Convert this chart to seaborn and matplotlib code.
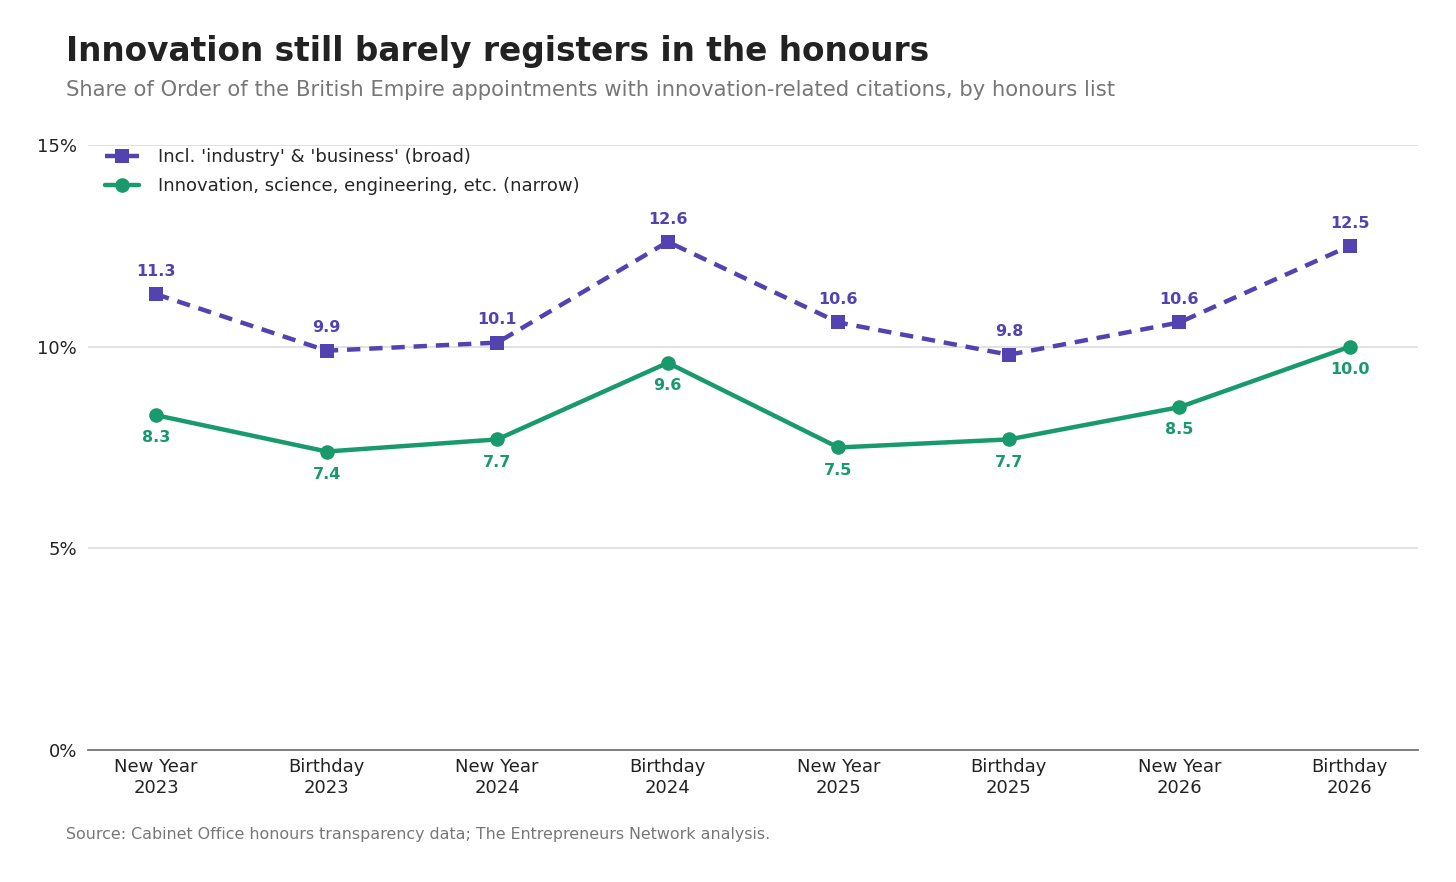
import matplotlib
matplotlib.use("Agg")
import matplotlib.pyplot as plt
import seaborn as sns
import pandas as pd
import numpy as np

categories = ["New Year\n2023", "Birthday\n2023", "New Year\n2024", "Birthday\n2024",
              "New Year\n2025", "Birthday\n2025", "New Year\n2026", "Birthday\n2026"]
broad = [11.3, 9.9, 10.1, 12.6, 10.6, 9.8, 10.6, 12.5]
narrow = [8.3, 7.4, 7.7, 9.6, 7.5, 7.7, 8.5, 10.0]
broad_label = "Incl. 'industry' & 'business' (broad)"
narrow_label = "Innovation, science, engineering, etc. (narrow)"
yticks = [0, 5, 10, 15]

PURPLE = "#5243B0"
GREEN = "#189A6C"
FAM = ["DejaVu Sans"]

sns.set_style("white")
plt.rcParams['font.family'] = FAM
plt.rcParams['font.sans-serif'] = FAM

fig = plt.figure(figsize=(14.56, 8.82), dpi=100)
ax = fig.add_axes([0.0604, 0.1497, 0.9136, 0.6859])

x = np.arange(len(categories))
df_b = pd.DataFrame({"x": x, "y": broad})
df_n = pd.DataFrame({"x": x, "y": narrow})

sns.lineplot(data=df_b, x="x", y="y", ax=ax, color=PURPLE, linewidth=3.2,
             linestyle=(0, (3, 2)), marker="s", markersize=10, markeredgewidth=0,
             label=broad_label)
sns.lineplot(data=df_n, x="x", y="y", ax=ax, color=GREEN, linewidth=3.2,
             marker="o", markersize=10.5, markeredgewidth=0, label=narrow_label)

for xi, v in zip(x, broad):
    ax.annotate(f"{v:.1f}", (xi, v), xytext=(0, 11), textcoords="offset points",
                ha="center", va="bottom", color=PURPLE, fontsize=11.5, fontweight="bold",
                family=FAM)
for xi, v in zip(x, narrow):
    ax.annotate(f"{v:.1f}", (xi, v), xytext=(0, -11), textcoords="offset points",
                ha="center", va="top", color=GREEN, fontsize=11.5, fontweight="bold",
                family=FAM)

ax.set_xlim(-0.4, len(categories) - 0.6)
ax.set_ylim(0, 15)
ax.set_yticks(yticks)
ax.set_yticklabels([f"{t}%" for t in yticks], family=FAM)
ax.set_xticks(x)
ax.set_xticklabels(categories, family=FAM)
ax.tick_params(axis="both", length=0, labelsize=13, colors="#222222")
ax.tick_params(axis="y", pad=8)
ax.tick_params(axis="x", pad=6)
ax.set_xlabel("")
ax.set_ylabel("")
ax.yaxis.grid(True, color="#dddddd", linewidth=1.2)
ax.xaxis.grid(False)
ax.set_axisbelow(True)
for s in ["left", "right", "top"]:
    ax.spines[s].set_visible(False)
ax.spines["bottom"].set_color("#777777")
ax.spines["bottom"].set_linewidth(1.3)

leg = ax.legend(loc="upper left", bbox_to_anchor=(0.0075, 1.007), frameon=False,
                prop={"family": FAM, "size": 13}, handlelength=1.9, handletextpad=1.0,
                labelspacing=0.6, borderaxespad=0.0)

fig.text(66 / 1456, 1 - 52 / 882, "Innovation still barely registers in the honours",
         fontsize=23.6, fontweight="bold", color="#222222", va="center", ha="left", family=FAM)
fig.text(66 / 1456, 1 - 90 / 882,
         "Share of Order of the British Empire appointments with innovation-related citations, by honours list",
         fontsize=15.2, color="#777777", va="center", ha="left", family=FAM)
fig.text(66 / 1456, 1 - 835 / 882,
         "Source: Cabinet Office honours transparency data; The Entrepreneurs Network analysis.",
         fontsize=11.45, color="#777777", va="center", ha="left", family=FAM)

fig.savefig("out.png", dpi=100)
